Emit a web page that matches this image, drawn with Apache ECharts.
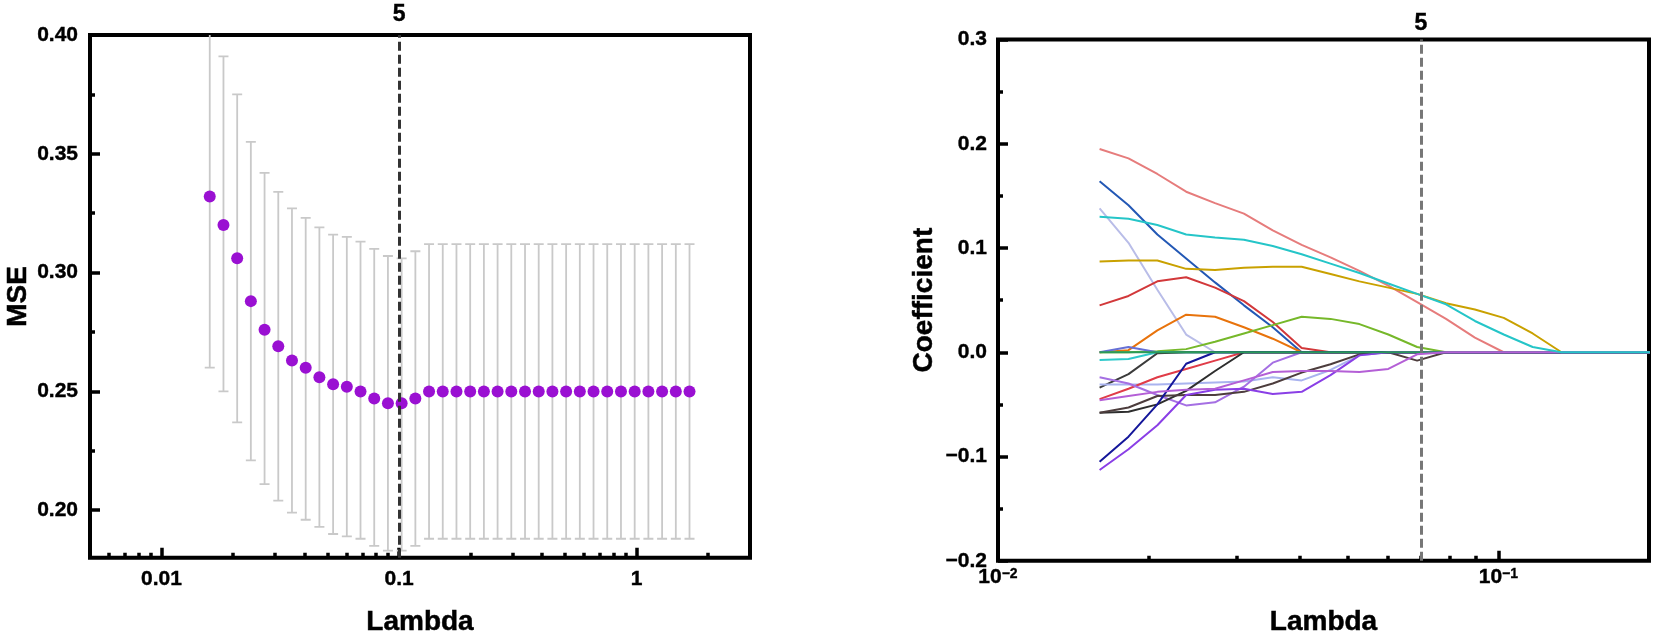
<!DOCTYPE html>
<html lang="en">
<head>
    <meta charset="utf-8">
    <title>Lasso CV</title>
    <script type="text/javascript" src="https://cdn.jsdelivr.net/npm/echarts@6/dist/echarts.min.js"></script>
    <style>
        html, body { margin: 0; padding: 0; background: #fff; }
        #main { width: 1654px; height: 642px; }
    </style>
</head>
<body>
<div id="main"></div>
<script type="text/javascript">
    // lambda sequence (read from point positions)
    var lambda = [0.01596, 0.01823, 0.02082, 0.02377, 0.02715, 0.03101, 0.03541, 0.04045, 0.04619, 0.05276,
        0.06026, 0.06881, 0.07859, 0.08976, 0.1025, 0.1171, 0.1337, 0.1527, 0.1744, 0.1992,
        0.2275, 0.2598, 0.2967, 0.3389, 0.3870, 0.4420, 0.5048, 0.5765, 0.6584, 0.7520,
        0.8590, 0.9811, 1.1205, 1.2796, 1.4617, 1.6692];

    // left panel: cross-validated MSE with error bars
    var mse = [0.332, 0.320, 0.306, 0.288, 0.276, 0.269, 0.263, 0.260, 0.256, 0.253,
        0.252, 0.250, 0.247, 0.245, 0.245, 0.247, 0.250, 0.250, 0.250, 0.250,
        0.250, 0.250, 0.250, 0.250, 0.250, 0.250, 0.250, 0.250, 0.250, 0.250,
        0.250, 0.250, 0.250, 0.250, 0.250, 0.250];
    var mseUpper = [0.403, 0.391, 0.375, 0.355, 0.342, 0.334, 0.327, 0.323, 0.319, 0.316,
        0.315, 0.313, 0.310, 0.307, 0.306, 0.309, 0.312, 0.312, 0.312, 0.312,
        0.312, 0.312, 0.312, 0.312, 0.312, 0.312, 0.312, 0.312, 0.312, 0.312,
        0.312, 0.312, 0.312, 0.312, 0.312, 0.312];
    var mseLower = [0.260, 0.250, 0.237, 0.221, 0.211, 0.204, 0.199, 0.196, 0.193, 0.190,
        0.189, 0.188, 0.185, 0.183, 0.183, 0.185, 0.188, 0.188, 0.188, 0.188,
        0.188, 0.188, 0.188, 0.188, 0.188, 0.188, 0.188, 0.188, 0.188, 0.188,
        0.188, 0.188, 0.188, 0.188, 0.188, 0.188];
    var lambdaSelLeft = 0.0978;

    // right panel: coefficient paths, one value per lambda (first 21 lambdas)
    var pathPink = [0.195, 0.186, 0.171, 0.154, 0.143, 0.133, 0.117, 0.103, 0.091, 0.078, 0.064, 0.048, 0.032, 0.014, 0, 0, 0, 0, 0, 0, 0];
    var pathBlue = [0.164, 0.141, 0.113, 0.090, 0.067, 0.045, 0.024, 0, 0, 0, 0, 0, 0, 0, 0, 0, 0, 0, 0, 0, 0];
    var pathLavender = [0.138, 0.105, 0.060, 0.017, 0, 0, 0, 0, 0, 0, 0, 0, 0, 0, 0, 0, 0, 0, 0, 0, 0];
    var pathGold = [0.087, 0.088, 0.088, 0.080, 0.079, 0.081, 0.082, 0.082, 0.075, 0.068, 0.062, 0.056, 0.047, 0.041, 0.033, 0.018, 0, 0, 0, 0, 0];
    var pathRed = [0.045, 0.054, 0.068, 0.072, 0.062, 0.049, 0.029, 0.004, 0, 0, 0, 0, 0, 0, 0, 0, 0, 0, 0, 0, 0];
    var pathOrange = [0, 0.002, 0.021, 0.036, 0.034, 0.024, 0.013, 0, 0, 0, 0, 0, 0, 0, 0, 0, 0, 0, 0, 0, 0];
    var pathLime = [0, 0, 0.001, 0.003, 0.010, 0.018, 0.026, 0.034, 0.032, 0.027, 0.017, 0.005, 0, 0, 0, 0, 0, 0, 0, 0, 0];
    var pathIndigo = [0, 0.005, 0, 0, 0, 0, 0, 0, 0, 0, 0, 0, 0, 0, 0, 0, 0, 0, 0, 0, 0];
    var pathTeal = [-0.0075, -0.0065, 0, 0, 0, 0, 0, 0, 0, 0, 0, 0, 0, 0, 0, 0, 0, 0, 0, 0, 0];
    var pathGrey = [-0.034, -0.021, -0.001, 0, 0, 0, 0, 0, 0, 0, 0, 0, 0, 0, 0, 0, 0, 0, 0, 0, 0];
    var pathSky = [-0.031, -0.031, -0.031, -0.030, -0.029, -0.028, -0.024, -0.027, -0.017, -0.003, 0, 0, 0, 0, 0, 0, 0, 0, 0, 0, 0];
    var pathCrimson = [-0.045, -0.035, -0.024, -0.016, -0.008, 0, 0, 0, 0, 0, 0, 0, 0, 0, 0, 0, 0, 0, 0, 0, 0];
    var pathOrchid = [-0.024, -0.030, -0.041, -0.051, -0.048, -0.033, -0.010, 0, 0, 0, 0, 0, 0, 0, 0, 0, 0, 0, 0, 0, 0];
    var pathBlackA = [-0.058, -0.057, -0.050, -0.037, -0.018, 0, 0, 0, 0, 0, 0, 0, 0, 0, 0, 0, 0, 0, 0, 0, 0];
    var pathBlackB = [-0.058, -0.053, -0.042, -0.041, -0.041, -0.038, -0.030, -0.0195, -0.0115, -0.002, 0, -0.008, 0, 0, 0, 0, 0, 0, 0, 0, 0];
    var pathNavy = [-0.105, -0.081, -0.050, -0.011, 0, 0, 0, 0, 0, 0, 0, 0, 0, 0, 0, 0, 0, 0, 0, 0, 0];
    var pathViolet = [-0.113, -0.093, -0.070, -0.041, -0.036, -0.035, -0.040, -0.038, -0.022, -0.003, 0, 0, 0, 0, 0, 0, 0, 0, 0, 0, 0];
    var pathGreen = [0, 0, 0, 0, 0, 0, 0, 0, 0, 0, 0, 0, 0, 0, 0, 0, 0, 0, 0, 0, 0];
    var pathLilac = [-0.046, -0.042, -0.038, -0.036, -0.035, -0.027, -0.019, -0.018, -0.018, -0.019, -0.016, -0.002, 0, 0, 0, 0, 0, 0, 0, 0, 0];
    var pathCyan = [0.130, 0.128, 0.122, 0.113, 0.110, 0.108, 0.102, 0.094, 0.085, 0.076, 0.066, 0.056, 0.046, 0.030, 0.017, 0.005, 0, 0, 0, 0, 0];
    var lambdaSelRight = 0.0750;

    // tick values
    var leftXMajor = [0.01, 0.1, 1];
    var leftXMinor = [0.006, 0.007, 0.008, 0.009, 0.02, 0.03, 0.04, 0.05, 0.06, 0.07, 0.08, 0.09,
        0.2, 0.3, 0.4, 0.5, 0.6, 0.7, 0.8, 0.9, 2];
    var leftYMajor = [0.20, 0.25, 0.30, 0.35, 0.40];
    var leftYMinor = [0.225, 0.275, 0.325, 0.375];
    var rightXMajor = [0.01, 0.1];
    var rightXMinor = [0.02, 0.03, 0.04, 0.05, 0.06, 0.07, 0.08, 0.09];
    var rightYMajor = [-0.2, -0.1, 0, 0.1, 0.2, 0.3];
    var rightYMinor = [-0.15, -0.05, 0.05, 0.15, 0.25];

    var paths = [pathPink, pathBlue, pathLavender, pathGold, pathRed, pathOrange, pathLime, pathIndigo,
        pathTeal, pathGrey, pathSky, pathCrimson, pathOrchid, pathBlackA, pathBlackB, pathNavy,
        pathViolet, pathGreen, pathLilac, pathCyan];
    var pathColors = ['#e67c7c', '#2358b5', '#b9bde8', '#c9a100', '#d2383a', '#e8730c', '#76b82a', '#6670d6',
        '#2fc9cb', '#3b3b3b', '#a9b3ef', '#e03c48', '#a56fe3', '#2e2e2e', '#4d3d3d', '#14169a',
        '#8a3fe6', '#2a9a5a', '#b45fd6', '#25c5c8'];

    var FONT = "'Liberation Sans', Arial, sans-serif";

    var errData = lambda.map(function (l, i) { return [l, mseLower[i], mseUpper[i]]; });
    var mseData = lambda.map(function (l, i) { return [l, mse[i]]; });

    function renderErr(params, api) {
        var x = api.value(0);
        var lo = api.coord([x, api.value(1)]);
        var hi = api.coord([x, api.value(2)]);
        var w = 5;
        var st = { stroke: '#c9c9c9', lineWidth: 1.8 };
        return {
            type: 'group',
            children: [
                { type: 'line', shape: { x1: lo[0], y1: lo[1], x2: hi[0], y2: hi[1] }, style: st },
                { type: 'line', shape: { x1: lo[0] - w, y1: lo[1], x2: lo[0] + w, y2: lo[1] }, style: st },
                { type: 'line', shape: { x1: hi[0] - w, y1: hi[1], x2: hi[0] + w, y2: hi[1] }, style: st }
            ]
        };
    }

    function minus(v, d) {
        return (v < 0 ? '\u2212' : '') + Math.abs(v).toFixed(d);
    }

    var labelStyle = { fontSize: 21, fontWeight: 'bold', color: '#000', fontFamily: FONT,
        textBorderColor: '#000', textBorderWidth: 0.4 };
    var nameStyle = { fontSize: 28, fontWeight: 'bold', color: '#000', fontFamily: FONT,
        textBorderColor: '#000', textBorderWidth: 0.5 };

    function tickAxis(values, len) {
        return { show: true, inside: true, length: len, customValues: values, lineStyle: { color: '#000', width: 3.5 } };
    }
    var noLine = { show: false, onZero: false };

    var myChart = echarts.init(document.getElementById('main'));

    var option = {
        animation: false,
        backgroundColor: '#fff',
        grid: [
            { left: 90, top: 35, width: 660, height: 531, show: true, borderColor: '#000', borderWidth: 4 },
            { left: 998, top: 39.5, width: 651, height: 522.5, show: true, borderColor: '#000', borderWidth: 4 }
        ],
        xAxis: [
            {
                type: 'log', gridIndex: 0, min: 0.005, max: 3, position: 'bottom',
                axisLine: noLine, splitLine: { show: false },
                axisTick: tickAxis(leftXMajor, 10),
                axisLabel: Object.assign({ customValues: leftXMajor, margin: 11 }, labelStyle),
                name: 'Lambda', nameLocation: 'middle', nameGap: 51, nameTextStyle: nameStyle
            },
            {
                type: 'log', gridIndex: 0, min: 0.005, max: 3, position: 'bottom',
                axisLine: noLine, splitLine: { show: false }, axisLabel: { show: false },
                axisTick: tickAxis(leftXMinor, 5)
            },
            {
                type: 'log', gridIndex: 1, min: 0.01, max: 0.2, position: 'bottom',
                axisLine: noLine, splitLine: { show: false },
                axisTick: tickAxis(rightXMajor, 10),
                axisLabel: Object.assign({}, labelStyle, {
                    customValues: rightXMajor, margin: 6,
                    formatter: function (v) {
                        var e = Math.round(Math.log10(v));
                        return '{b|10}{s|' + minus(e, 0) + '}';
                    },
                    rich: {
                        b: { fontSize: 21, fontWeight: 'bold', color: '#000', fontFamily: FONT,
                            textBorderColor: '#000', textBorderWidth: 0.4 },
                        s: { fontSize: 14, fontWeight: 'bold', color: '#000', fontFamily: FONT,
                            textBorderColor: '#000', textBorderWidth: 0.3, verticalAlign: 'top' }
                    }
                }),
                name: 'Lambda', nameLocation: 'middle', nameGap: 48, nameTextStyle: nameStyle
            },
            {
                type: 'log', gridIndex: 1, min: 0.01, max: 0.2, position: 'bottom',
                axisLine: noLine, splitLine: { show: false }, axisLabel: { show: false },
                axisTick: tickAxis(rightXMinor, 5)
            }
        ],
        yAxis: [
            {
                type: 'value', gridIndex: 0, min: 0.18, max: 0.40, position: 'left',
                axisLine: noLine, splitLine: { show: false },
                axisTick: tickAxis(leftYMajor, 10),
                axisLabel: Object.assign({ customValues: leftYMajor, margin: 12,
                    formatter: function (v) { return v.toFixed(2); } }, labelStyle),
                name: 'MSE', nameLocation: 'middle', nameGap: 58, nameTextStyle: nameStyle
            },
            {
                type: 'value', gridIndex: 0, min: 0.18, max: 0.40, position: 'left',
                axisLine: noLine, splitLine: { show: false }, axisLabel: { show: false },
                axisTick: tickAxis(leftYMinor, 5)
            },
            {
                type: 'value', gridIndex: 1, min: -0.2, max: 0.3, position: 'left',
                axisLine: noLine, splitLine: { show: false },
                axisTick: tickAxis(rightYMajor, 10),
                axisLabel: Object.assign({ customValues: rightYMajor, margin: 11,
                    formatter: function (v) { return minus(v, 1); } }, labelStyle),
                name: 'Coefficient', nameLocation: 'middle', nameGap: 60, nameTextStyle: nameStyle
            },
            {
                type: 'value', gridIndex: 1, min: -0.2, max: 0.3, position: 'left',
                axisLine: noLine, splitLine: { show: false }, axisLabel: { show: false },
                axisTick: tickAxis(rightYMinor, 5)
            }
        ],
        series: []
    };

    option.series.push({
        type: 'custom', xAxisIndex: 0, yAxisIndex: 0, clip: true,
        renderItem: renderErr, encode: { x: 0, y: [1, 2] }, data: errData, z: 2
    });
    option.series.push({
        type: 'scatter', xAxisIndex: 0, yAxisIndex: 0, data: mseData, z: 3,
        symbol: 'circle', symbolSize: 12, itemStyle: { color: '#9a10d2', opacity: 1 },
        markLine: {
            silent: true, symbol: 'none',
            lineStyle: { color: '#333', width: 3, type: [9, 4] },
            label: { show: true, position: 'end', formatter: '5', distance: 9,
                fontSize: 23, fontWeight: 'bold', color: '#000', fontFamily: FONT,
                textBorderColor: '#000', textBorderWidth: 0.4 },
            data: [{ xAxis: lambdaSelLeft }]
        }
    });

    paths.forEach(function (p, k) {
        option.series.push({
            type: 'line', xAxisIndex: 2, yAxisIndex: 2, showSymbol: false, symbol: 'none',
            data: p.map(function (v, i) { return [lambda[i], v]; }),
            lineStyle: { color: pathColors[k], width: 2 }, itemStyle: { color: pathColors[k] }, z: 2
        });
    });
    option.series.push({
        type: 'line', xAxisIndex: 2, yAxisIndex: 2, data: [], z: 3,
        markLine: {
            silent: true, symbol: 'none',
            lineStyle: { color: '#777', width: 3, type: [9, 4] },
            label: { show: true, position: 'end', formatter: '5', distance: 4,
                fontSize: 23, fontWeight: 'bold', color: '#000', fontFamily: FONT,
                textBorderColor: '#000', textBorderWidth: 0.4 },
            data: [{ xAxis: lambdaSelRight }]
        }
    });

    myChart.setOption(option);
</script>
</body>
</html>
